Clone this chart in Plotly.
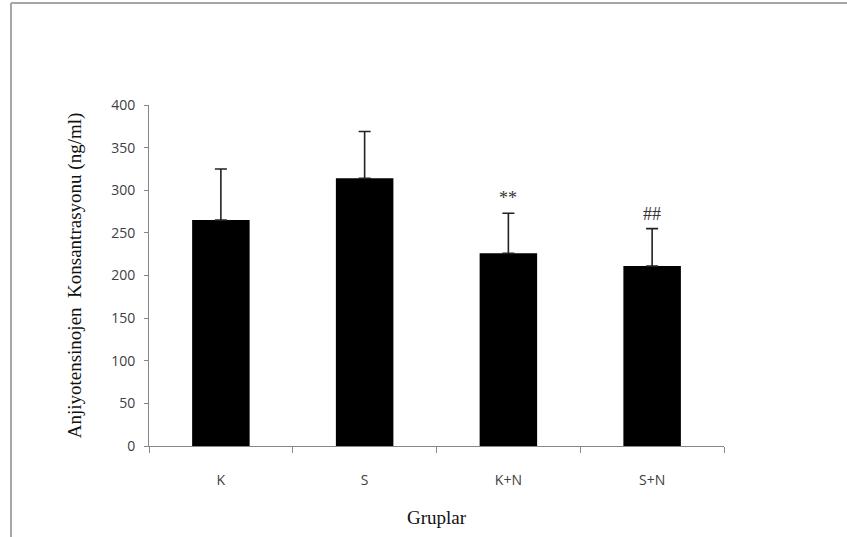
import plotly.graph_objects as go

# Groups and measured angiotensinogen levels (ng/ml)
groups = ["K", "S", "K+N", "S+N"]
means = [265, 314, 226, 211]
sds = [60, 55, 47, 44]
marks = ["", "", "**", "##"]
y_ticks = [0, 50, 100, 150, 200, 250, 300, 350, 400]

W, H = 847, 537
L, R, T, B = 149, 123, 105, 91
pw, ph = W - L - R, H - T - B

fig = go.Figure()
fig.add_trace(go.Bar(
    x=groups, y=means, width=0.4,
    marker=dict(color="black", line=dict(color="black", width=0)),
    error_y=dict(type="data", array=sds, arrayminus=[0] * len(sds), symmetric=False,
                 color="#222222", thickness=1.6, width=6),
    showlegend=False,
))

for g, m, s, t in zip(groups, means, sds, marks):
    if t:
        fig.add_annotation(x=g, y=m + s, text=t, showarrow=False, yanchor="bottom", yshift=3,
                           font=dict(family="Liberation Serif", size=18, color="#333333"))

# Outer frame (top and left edges)
def px_x(p):
    return (p - L) / pw

def px_y(p):
    return (H - B - p) / ph

frame = dict(color="#a6a6a6", width=2)
fig.add_shape(type="line", xref="paper", yref="paper", x0=px_x(11), x1=px_x(W + 5),
              y0=px_y(3), y1=px_y(3), line=frame)
fig.add_shape(type="line", xref="paper", yref="paper", x0=px_x(11), x1=px_x(11),
              y0=px_y(3), y1=px_y(H + 5), line=frame)

fig.update_layout(
    width=W, height=H,
    margin=dict(l=L, r=R, t=T, b=B, pad=0),
    paper_bgcolor="white", plot_bgcolor="white",
    bargap=0.6,
    xaxis=dict(
        showline=True, linecolor="#868686", linewidth=1,
        ticks="outside", ticklen=6, tickcolor="#868686", tickson="boundaries",
        ticklabelstandoff=21,
        tickfont=dict(family="Open Sans", size=14, color="#404040"),
        title=dict(text="Gruplar", standoff=22,
                   font=dict(family="Liberation Serif", size=19, color="#111111")),
        showgrid=False, zeroline=False,
    ),
    yaxis=dict(
        range=[0, 400], tickvals=y_ticks,
        showline=True, linecolor="#868686", linewidth=1,
        ticks="outside", ticklen=4, tickcolor="#868686",
        ticklabelstandoff=6,
        tickfont=dict(family="Open Sans", size=14, color="#404040"),
        title=dict(text="Anjiyotensinojen  Konsantrasyonu (ng/ml)", standoff=24,
                   font=dict(family="Liberation Serif", size=19, color="#111111")),
        showgrid=False, zeroline=False,
    ),
)

fig.write_html("out.html")
